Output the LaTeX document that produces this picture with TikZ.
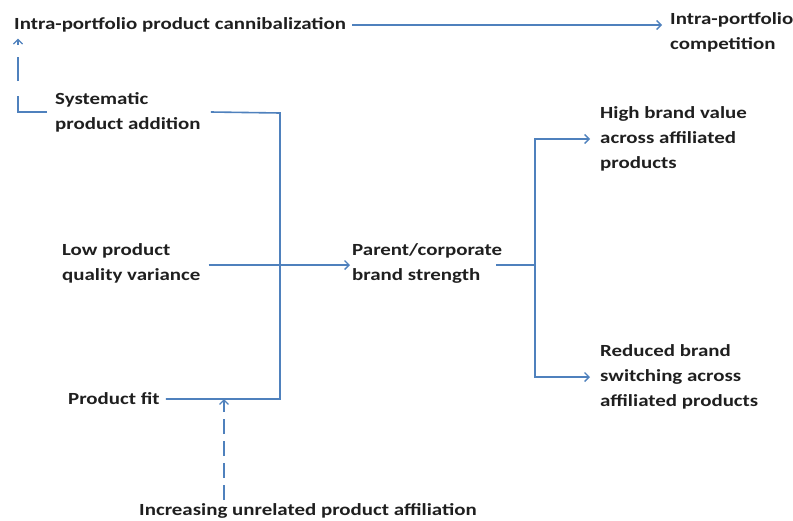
\documentclass[tikz,border=0pt]{standalone}
\usepackage{fontspec}
\setmainfont{Carlito}[FakeStretch=1.23]
\usetikzlibrary{arrows.meta}
\definecolor{lineblue}{RGB}{79,129,189}
\begin{document}
\begin{tikzpicture}[x=1pt,y=-1pt,
  lbl/.style={font=\bfseries\fontsize{17}{25}\selectfont, anchor=west, align=left, inner sep=0pt, text=black!88},
  wire/.style={draw=lineblue, line width=1.6pt},
  conn/.style={wire, -{Straight Barb[length=4.5pt,width=9pt,line width=1.4pt]}},
  dashA/.style={dash pattern=on 45pt off 15pt on 24pt off 12pt on 40pt},
  dashB/.style={dash pattern=on 15pt off 7pt}]
\useasboundingbox (0,0) rectangle (793,520);
\node[lbl] (cannib) at (14,25) {Intra-portfolio product cannibalization};
\node[lbl] (comp) at (670,32) {Intra-portfolio\\competition};
\node[lbl] (sys) at (55,112) {Systematic\\product addition};
\node[lbl] (low) at (62,263) {Low product\\quality variance};
\node[lbl] (fit) at (68,399) {Product fit};
\node[lbl] (inc) at (139,511) {Increasing unrelated product affiliation};
\node[lbl] (parent) at (352,263) {Parent/corporate\\brand strength};
\node[lbl] (high) at (600,139) {High brand value\\across affiliated\\products};
\node[lbl] (red) at (600,377) {Reduced brand\\switching across\\affiliated products};
\coordinate (bus) at (280,113);
\coordinate (split) at (535,265);
\coordinate (incTop) at (224,500);
\draw[conn] ([xshift=6pt]cannib.east) -- ([xshift=-8pt]comp.west |- cannib.east);
\draw[conn, dashA] ([xshift=-8pt]sys.west) -| ([xshift=4pt,yshift=-6pt]cannib.south west);
\draw[wire] ([xshift=10pt]sys.east) -- (bus) -- (bus |- fit.east) -- ([xshift=6pt]fit.east);
\draw[conn] ([xshift=8pt]low.east |- split) -- ([xshift=-2pt]parent.west |- split);
\draw[wire] ([xshift=-6pt]split -| parent.east) -- (split);
\draw[conn] (split) |- ([xshift=-10pt]high.west);
\draw[conn] (split) |- ([xshift=-10pt]red.west);
\draw[conn, dashB] (incTop) -- (incTop |- fit.east);
\end{tikzpicture}
\end{document}
